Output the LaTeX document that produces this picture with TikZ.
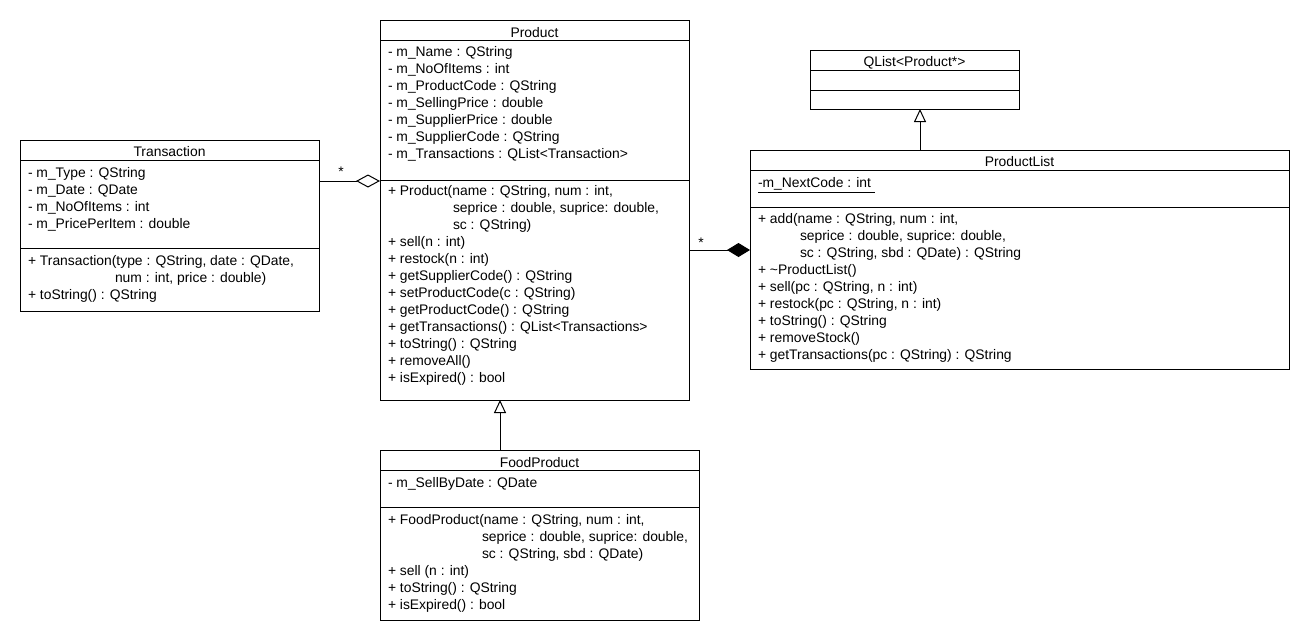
\documentclass[tikz,border=0pt]{standalone}
\usepackage{fontspec}
\setmainfont{Liberation Sans}
\usetikzlibrary{arrows.meta}
\newcounter{tlc}
\newcommand\tl[3]{\stepcounter{tlc}\node[txt] (tl\arabic{tlc}) at (#1,#2) {#3};}
\newcommand\ttl[3]{\stepcounter{tlc}\node[ttl] (tl\arabic{tlc}) at (#1,#2) {#3};}
\begin{document}
\begin{tikzpicture}[x=0.75pt,y=-0.75pt,line width=0.75pt,
  txt/.style={anchor=base west,inner sep=0pt,outer sep=0pt,font=\fontsize{10.4}{12}\selectfont,yshift=-3.4pt},
  ttl/.style={anchor=base,inner sep=0pt,outer sep=0pt,font=\fontsize{10.4}{12}\selectfont,yshift=-3.4pt},
  box/.style={draw,anchor=north west,inner sep=0pt,outer sep=0pt,line width=0.75pt},
  star/.style={inner sep=0pt,outer sep=0pt,font=\fontsize{10.4}{12}\selectfont},
  agg/.style={-{Diamond[open,length=18pt,width=9.75pt]}},
  comp/.style={-{Diamond[length=17.25pt,width=10.5pt]}},
  inh/.style={-{Triangle[open,length=9.75pt,width=9pt]}}]
\useasboundingbox[fill=white] (0,0) rectangle (1310,640);

% ---------- Product ----------
\node[box,minimum width=231.75pt,minimum height=285pt] (prod) at (380,20) {};
\draw (380,40) -- (689,40);
\draw (380,180) -- (689,180);
\ttl{534.5}{33}{Product}
\tl{388}{52}{- m\_Name : QString}
\tl{388}{69}{- m\_NoOfItems : int}
\tl{388}{86}{- m\_ProductCode : QString}
\tl{388}{103}{- m\_SellingPrice : double}
\tl{388}{120}{- m\_SupplierPrice : double}
\tl{388}{137}{- m\_SupplierCode : QString}
\tl{388}{154}{- m\_Transactions : QList<Transaction>}
\tl{388}{191}{+ Product(name : QString, num : int,}
\tl{453}{208}{seprice : double, suprice: double,}
\tl{453}{225}{sc : QString)}
\tl{388}{242}{+ sell(n : int)}
\tl{388}{259}{+ restock(n : int)}
\tl{388}{276}{+ getSupplierCode() : QString}
\tl{388}{293}{+ setProductCode(c : QString)}
\tl{388}{310}{+ getProductCode() : QString}
\tl{388}{327}{+ getTransactions() : QList<Transactions>}
\tl{388}{344}{+ toString() : QString}
\tl{388}{361}{+ removeAll()}
\tl{388}{378}{+ isExpired() : bool}

% ---------- Transaction ----------
\node[box,minimum width=224.25pt,minimum height=128.25pt] (trans) at (20,140) {};
\draw (20,160) -- (319,160);
\draw (20,248) -- (319,248);
\ttl{169.5}{152}{Transaction}
\tl{28}{173}{- m\_Type : QString}
\tl{28}{190}{- m\_Date : QDate}
\tl{28}{207}{- m\_NoOfItems : int}
\tl{28}{224}{- m\_PricePerItem : double}
\tl{28}{261}{+ Transaction(type : QString, date : QDate,}
\tl{115}{278}{num : int, price : double)}
\tl{28}{295}{+ toString() : QString}

% ---------- FoodProduct ----------
\node[box,minimum width=239.25pt,minimum height=127.5pt] (food) at (380,450) {};
\draw (380,470) -- (699,470);
\draw (380,507) -- (699,507);
\ttl{539.5}{463}{FoodProduct}
\tl{388}{483}{- m\_SellByDate : QDate}
\tl{388}{520}{+ FoodProduct(name : QString, num : int,}
\tl{482}{537}{seprice : double, suprice: double,}
\tl{482}{554}{sc : QString, sbd : QDate)}
\tl{388}{571}{+ sell (n : int)}
\tl{388}{588}{+ toString() : QString}
\tl{388}{605}{+ isExpired() : bool}

% ---------- QList<Product*> ----------
\node[box,minimum width=156.75pt,minimum height=44.25pt] (qlist) at (810,50) {};
\draw (810,70) -- (1019,70);
\draw (810,90) -- (1019,90);
\ttl{914.5}{62}{QList<Product*>}

% ---------- ProductList ----------
\node[box,minimum width=404.25pt,minimum height=164.25pt] (plist) at (750,150) {};
\draw (750,170) -- (1289,170);
\draw (750,207) -- (1289,207);
\ttl{1019.5}{162}{ProductList}
\tl{758}{183}{\underline{-m\_NextCode : int }}
\tl{758}{219}{+ add(name : QString, num : int,}
\tl{800}{236}{seprice : double, suprice: double,}
\tl{800}{253}{sc : QString, sbd : QDate) : QString}
\tl{758}{270}{+ \textasciitilde ProductList()}
\tl{758}{287}{+ sell(pc : QString, n : int)}
\tl{758}{304}{+ restock(pc : QString, n : int)}
\tl{758}{321}{+ toString() : QString}
\tl{758}{338}{+ removeStock()}
\tl{758}{355}{+ getTransactions(pc : QString) : QString}

% ---------- connectors ----------
\coordinate (aggy) at (0,181);
\coordinate (compy) at (0,250);
\coordinate (inh1) at (500,0);
\coordinate (inh2) at (920,0);
\draw[agg] (trans.east |- aggy) -- (prod.west |- aggy);
\draw[comp] (prod.east |- compy) -- (plist.west |- compy);
\draw[inh] (food.north -| inh1) -- (prod.south -| inh1);
\draw[inh] (plist.north -| inh2) -- (qlist.south -| inh2);
\node[star] (s1) at (341,172) {*};
\node[star] (s2) at (701,243) {*};
\end{tikzpicture}
\end{document}
